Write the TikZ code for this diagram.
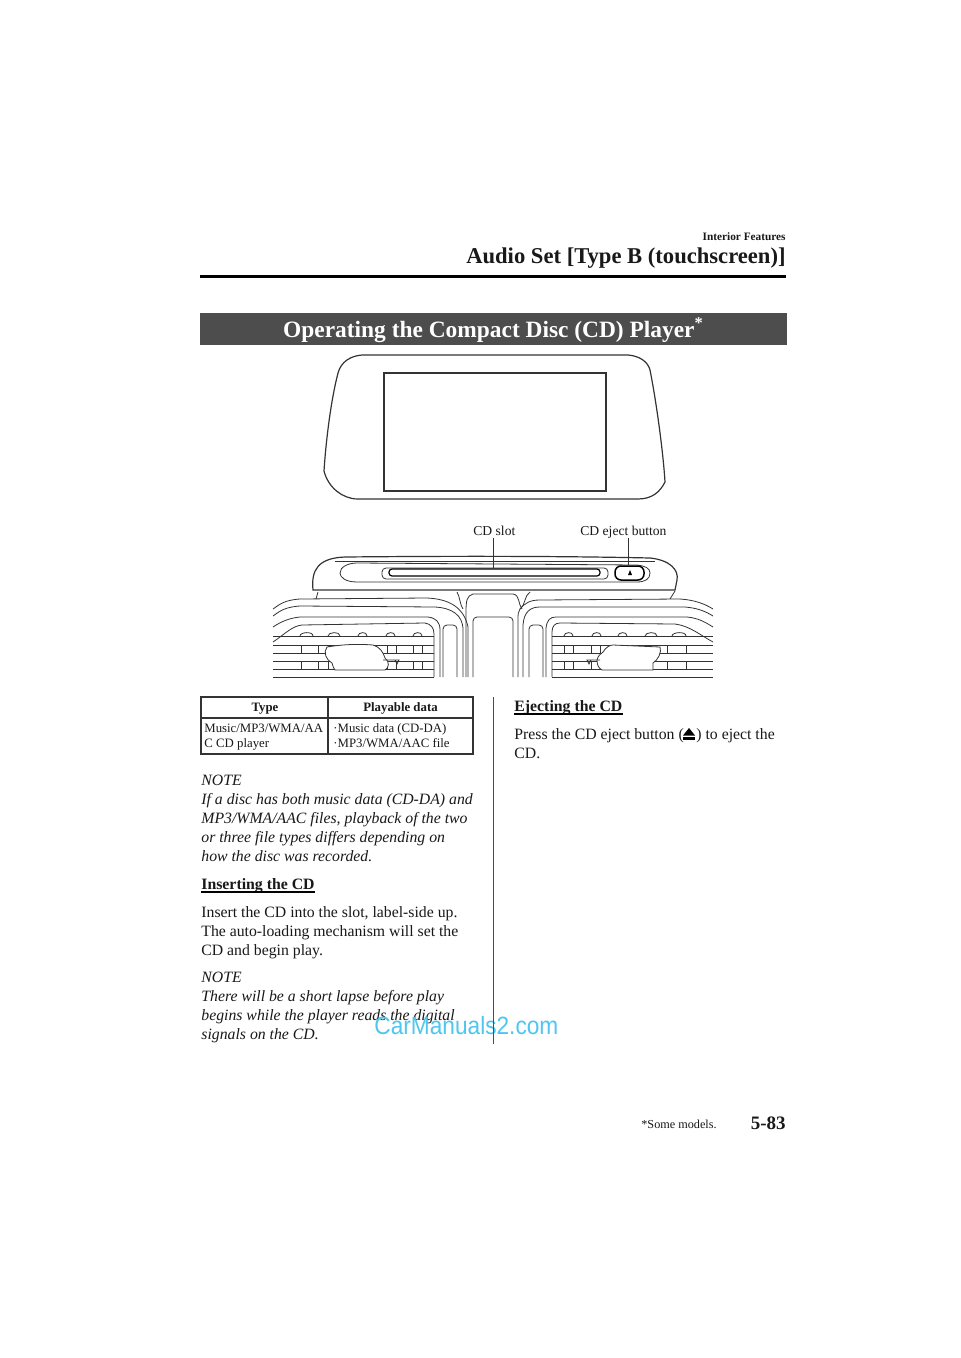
\documentclass[tikz,border=0pt]{standalone}
\usepackage{fontspec}
\setmainfont{Liberation Serif}
\newfontfamily\wmfont[FakeStretch=0.907]{Liberation Sans}
\usetikzlibrary{calc}
\definecolor{bandgray}{RGB}{77,77,77}
\definecolor{wmblue}{RGB}{78,198,240}
\tikzset{
	txt/.style={anchor=base west,inner sep=0pt,text=black!90,font=\fontsize{7.88}{9.5}\selectfont},
	para/.style={anchor=north west,inner sep=0pt,align=left,text=black!90,font=\fontsize{7.88}{9.5}\selectfont},
	notepara/.style={para,font=\fontsize{7.88}{9.5}\selectfont\itshape},
	headtxt/.style={txt,font=\fontsize{7.9}{9.5}\selectfont\bfseries},
	small/.style={txt,font=\fontsize{6.8}{7.6}\selectfont},
	cell/.style={txt,font=\fontsize{6.4}{7.6}\selectfont},
	ln/.style={line width=0.4pt,black!80},
	thk/.style={line width=0.6pt,black!80}
}
\begin{document}
\begin{tikzpicture}[x=0.5pt,y=-0.5pt]
	\useasboundingbox (0,0) rectangle (960,1358);
	\fill[white] (0,0) rectangle (960,1358);
	% page header
	\node[txt,anchor=base east,font=\fontsize{5.65}{6}\selectfont\bfseries] (chapter) at (786,241) {Interior Features};
	\node[txt,anchor=base east,font=\fontsize{11.3}{12}\selectfont\bfseries] (section) at (786,264) {Audio Set [Type B (touchscreen)]};
	\draw[line width=1.5pt] (200,277) -- (786,277);
	\fill[bandgray] (200,313) rectangle (787,345);
	\node[txt,anchor=base,text=white,font=\fontsize{11.7}{13}\selectfont\bfseries] (title) at (493.5,337) {Operating the Compact Disc (CD) Player\textsuperscript{*}};
	% display
	\draw[thk] (362,355) -- (628,355) .. controls (640,356) and (648,362) .. (650,370)
		.. controls (656,400) and (663,450) .. (665,482) .. controls (660,492) and (652,499) .. (638,499)
		-- (358,499) .. controls (342,499) and (328,487) .. (324,471)
		.. controls (326,440) and (331,400) .. (338,373) .. controls (341,362) and (350,356) .. (362,355) -- cycle;
	\draw[thk] (384,373) rectangle (606,491);
	% console
	\node[small] (slotlabel) at (473,535) {CD slot};
	\node[small] (ejectlabel) at (580,535) {CD eject button};
	\draw[thk] (313,590) .. controls (311,570) and (318,558) .. (345,557) .. controls (450,556) and (560,556) .. (650,558)
		.. controls (670,560) and (679,570) .. (677,580) -- (675,590) -- cycle;
	\draw[ln] (335,561) -- (655,561);
	\draw[ln] (357,563) -- (637,565) .. controls (645,566) and (650,568) .. (650,573) .. controls (650,579) and (645,582) .. (637,582)
		-- (357,582) .. controls (345,582) and (340,577) .. (340,573) .. controls (340,567) and (348,563) .. (357,563);
	\draw[ln,rounded corners=2pt] (382,568) rectangle (608,579);
	\draw[line width=0.6pt,rounded corners=1.5pt] (389,569) rectangle (600,576);
	\coordinate (slotpt) at (493,569);
	\node[draw,line width=0.75pt,rounded corners=3pt,minimum width=14.5pt,minimum height=7pt,inner sep=0pt] (ejectbtn) at (629.5,573) {};
	\fill (630,570) -- (632,575) -- (628,575) -- cycle;
	\draw[ln] (slotlabel.base -| slotpt) ++(0,3) -- (slotpt);
	\draw[ln] (ejectlabel.base -| ejectbtn.north) ++(-1.5,3) -- ($(ejectbtn.north)+(-1.5,0)$);
	% vents, left side
	\draw[ln] (318,592) -- (316,599);
	\draw[ln] (273,609) .. controls (280,604) and (285,600) .. (300,599) -- (427,598) .. controls (450,599) and (464,608) .. (468,627) -- (468,677);
	\draw[ln] (273,616) .. controls (280,611) and (285,607) .. (300,606) -- (435,607) .. controls (452,608) and (463,615) .. (463,630) -- (463,677);
	\draw[ln] (273,627) .. controls (282,621) and (290,618) .. (300,617) -- (428,617) .. controls (436,618) and (440,622) .. (440,630) -- (440,677);
	\draw[ln] (273,642) .. controls (285,634) and (292,626) .. (302,625) -- (425,623) .. controls (431,624) and (434,628) .. (434,634) -- (434,677);
	\draw[ln,rounded corners=2pt] (443,677) -- (443,625) -- (457,625) -- (457,677);
	% vents, centre
	\draw[ln] (457,592) .. controls (460,597) and (460,605) .. (463,609);
	\draw[ln] (473,594) .. controls (467,596) and (466,600) .. (466,612) -- (466,677);
	\draw[ln] (473,594) -- (513,594) .. controls (520,595) and (518,604) .. (522,609);
	\draw[ln] (530,592) .. controls (524,596) and (526,604) .. (520,609) .. controls (518,612) and (518,614) .. (518,620) -- (518,677);
	\draw[ln,rounded corners=2pt] (473,677) -- (473,617) -- (513,617) -- (513,677);
	% vents, right side
	\draw[ln] (675,591) -- (670,599);
	\draw[ln] (520,609) .. controls (525,603) and (530,600) .. (540,600) -- (680,599) .. controls (695,600) and (705,604) .. (713,609);
	\draw[ln] (523,677) -- (523,625) .. controls (524,612) and (530,607) .. (540,607) -- (685,607) .. controls (697,608) and (705,611) .. (713,616);
	\draw[ln] (546,677) -- (546,628) .. controls (547,620) and (550,617) .. (556,617) -- (687,617) .. controls (698,618) and (705,622) .. (713,627);
	\draw[ln] (552,677) -- (552,632) .. controls (552,626) and (555,623) .. (560,623) -- (675,624) .. controls (690,626) and (700,635) .. (713,642);
	\draw[ln,rounded corners=2pt] (529,677) -- (529,625) -- (543,625) -- (543,677);
	% grille bars
	\foreach \y in {636,645,653,661,669,677} {
		\draw[ln] (273,\y) -- (434,\y);
		\draw[ln] (552,\y) -- (713,\y);
	}
	\foreach \x in {301,318,328,387,396,413,422,564,573,591,600,667,686} {
		\draw[ln] (\x,645) -- (\x,653);
		\draw[ln] (\x,661) -- (\x,669);
	}
	\foreach \a/\b in {300/313,328/340,358/367,386/395,413/422,564/573,592/601,618/627,645/657,672/686} {
		\draw[ln] (\a,636) .. controls (\a,632) and (\b,631) .. (\b,636);
	}
	% handles
	\draw[ln,fill=white] (327,647) .. controls (345,644) and (360,644) .. (373,645) .. controls (380,647) and (383,652) .. (385,658)
		.. controls (390,662) and (389,668) .. (385,670) -- (335,670) .. controls (332,666) and (333,664) .. (332,663) .. controls (326,660) and (323,652) .. (327,647) -- cycle;
	\draw[ln] (383,660) -- (399,660) -- (397,664) -- (395,660);
	\draw[ln,fill=white] (603,652) .. controls (606,647) and (610,645) .. (613,645) -- (660,647) .. controls (662,652) and (658,660) .. (653,663)
		-- (653,670) -- (602,670) .. controls (598,668) and (597,664) .. (597,660) .. controls (598,656) and (600,654) .. (603,652) -- cycle;
	\draw[ln] (600,660) -- (587,660) -- (589,664) -- (591,660);
	% table
	\draw[thk] (201,697) rectangle (473,754);
	\draw[thk] (201,718) -- (473,718);
	\draw[thk] (328,697) -- (328,754);
	\node[cell,anchor=base,font=\fontsize{6.4}{7}\selectfont\bfseries] (typehead) at (265,711) {Type};
	\node[cell,anchor=base,font=\fontsize{6.4}{7}\selectfont\bfseries] (datahead) at (400.5,711) {Playable data};
	\node[cell,anchor=north west,align=left] (typecell) at (204,723.5) {Music/MP3/WMA/AA\\C CD player};
	\node[cell,anchor=north west,align=left] (datacell) at (333,723.5) {·Music data (CD-DA)\\·MP3/WMA/AAC file};
	% left column
	\node[notepara] (note1) at (201,775) {NOTE\\If a disc has both music data (CD-DA) and\\MP3/WMA/AAC files, playback of the two\\or three file types differs depending on\\how the disc was recorded.};
	\node[headtxt] (insert) at (201,889) {Inserting the CD};
	\draw[line width=0.6pt] ([yshift=-1.5pt]insert.base west) -- ([yshift=-1.5pt]insert.base east);
	\node[para] (inserttxt) at (201,906) {Insert the CD into the slot, label-side up.\\The auto-loading mechanism will set the\\CD and begin play.};
	\node[notepara] (note2) at (201,972) {NOTE\\There will be a short lapse before play\\begins while the player reads the digital\\signals on the CD.};
	% right column
	\node[headtxt] (eject) at (514,711) {Ejecting the CD};
	\draw[line width=0.6pt] ([yshift=-1.5pt]eject.base west) -- ([yshift=-1.5pt]eject.base east);
	\node[txt] (press) at (514,739) {Press the CD eject button (};
	\fill (689,728) -- (695,735.5) -- (683,735.5) -- cycle;
	\fill (683,737) rectangle (695,739.5);
	\node[txt] (pressb) at (696,739) {) to eject the};
	\node[txt] (pressc) at (514,758) {CD.};
	% footer
	\node[txt,anchor=base east,font=\fontsize{6.1}{7}\selectfont] (models) at (717,1128) {*Some models.};
	\node[txt,anchor=base east,font=\fontsize{9.5}{10}\selectfont\bfseries] (pageno) at (786,1129) {5-83};
	% watermark
	\node[txt,text=wmblue,font=\fontsize{12.5}{14}\selectfont\wmfont] (wm) at (374,1034) {CarManuals2.com};
	% column rule
	\draw[line width=0.5pt,black!70] (493,697) -- (493,1044);
\end{tikzpicture}
\end{document}
